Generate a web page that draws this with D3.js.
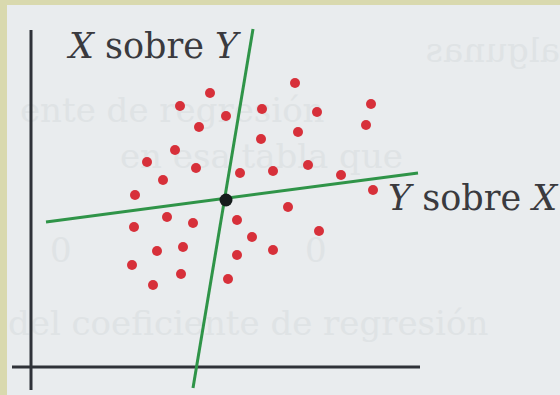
<!DOCTYPE html>
<html>
<head>
<meta charset="utf-8">
<script src="https://cdn.jsdelivr.net/npm/d3@7"></script>
<style>
  html, body { margin: 0; padding: 0; background: #d9d9ae; }
  svg { display: block; }
</style>
</head>
<body>
<div id="viz"><svg></svg></div>
<script>
const fullWidth = 560;
const fullHeight = 395;

// scatter points (x, y) in plot units
const pointsX = [44.75, 37.25, 48.75, 42, 57.75, 57.5, 36, 29, 41.25, 33, 52.25, 60.5, 26,
  66, 71.5, 66.75, 85, 83.75, 69.25, 77.5, 85.5,
  25.75, 34, 40.5, 51.5, 55.25, 60.5, 31.5, 38, 51.5, 25.25, 37.5, 30.5, 49.25, 64.25, 72];
const pointsY = [68.5, 65.25, 62.75, 60, 64.5, 57, 54.25, 51.25, 49.75, 46.75, 48.5, 49, 43,
  71, 63.75, 58.75, 65.75, 60.5, 50.5, 48, 44.25,
  35, 37.5, 36, 36.75, 32.5, 29.25, 29, 30, 28, 25.5, 23.25, 20.5, 22, 40, 34];

// centroid and the two regression lines (end points in plot units)
const centroid = [48.75, 41.75];
const lineXonY = [[55.5, 84.5], [40.5, -5.25]];
const lineYonX = [[3.75, 36.25], [96.75, 48.5]];

// axis extents
const xAxisRange = [-4.75, 97.25];
const yAxisRange = [-5.75, 84.25];

const labels = [
  { a: 'X', b: ' sobre ', c: 'Y', x: 9.5, y: 77.25 },
  { a: 'Y', b: ' sobre ', c: 'X', x: 89.25, y: 39.25 }
];

// faint text showing through from the page
const ghost = [
  { t: 'algunas', x: 300, y: 62, flip: true },
  { t: 'ente de regresión', x: 20, y: 122, flip: false },
  { t: 'en esa tabla que', x: 120, y: 168, flip: false },
  { t: '0', x: 50, y: 262, flip: false },
  { t: '0', x: 305, y: 262, flip: false },
  { t: 'del coeficiente de regresión', x: 8, y: 335, flip: false }
];

const svg = d3.select('#viz svg')
  .attr('width', fullWidth)
  .attr('height', fullHeight);

// paper
svg.append('rect')
  .attr('x', 7).attr('y', 5)
  .attr('width', fullWidth - 7).attr('height', fullHeight - 5)
  .attr('fill', '#e9ecee');

svg.append('g')
  .selectAll('text')
  .data(ghost)
  .enter().append('text')
  .attr('transform', d => d.flip ? `translate(${d.x + 260},${d.y}) scale(-1,1)` : `translate(${d.x},${d.y})`)
  .attr('font-family', 'DejaVu Serif')
  .attr('font-size', 34)
  .attr('fill', '#dfe3e5')
  .text(d => d.t);

// 4 px per unit, origin where axes cross
const x = d3.scaleLinear().domain([0, 100]).range([31, 431]);
const y = d3.scaleLinear().domain([0, 85]).range([367, 27]);

const g = svg.append('g');

g.append('line')
  .attr('x1', x(0)).attr('x2', x(0))
  .attr('y1', y(yAxisRange[0])).attr('y2', y(yAxisRange[1]))
  .attr('stroke', '#2f3238').attr('stroke-width', 3);

g.append('line')
  .attr('x1', x(xAxisRange[0])).attr('x2', x(xAxisRange[1]))
  .attr('y1', y(0)).attr('y2', y(0))
  .attr('stroke', '#2f3238').attr('stroke-width', 3);

const line = d3.line().x(d => x(d[0])).y(d => y(d[1]));

g.selectAll('path.reg')
  .data([lineXonY, lineYonX])
  .enter().append('path')
  .attr('class', 'reg')
  .attr('d', d => line(d))
  .attr('fill', 'none')
  .attr('stroke', '#2f9448')
  .attr('stroke-width', 3);

g.selectAll('circle.pt')
  .data(pointsX.map((v, i) => [v, pointsY[i]]))
  .enter().append('circle')
  .attr('class', 'pt')
  .attr('cx', d => x(d[0]))
  .attr('cy', d => y(d[1]))
  .attr('r', 5)
  .attr('fill', '#d7303a');

g.append('circle')
  .attr('cx', x(centroid[0]))
  .attr('cy', y(centroid[1]))
  .attr('r', 6.5)
  .attr('fill', '#151c1c');

const lab = g.selectAll('text.lab')
  .data(labels)
  .enter().append('text')
  .attr('class', 'lab')
  .attr('x', d => x(d.x))
  .attr('y', d => y(d.y))
  .attr('font-family', 'DejaVu Serif')
  .attr('font-size', 35)
  .attr('fill', '#3a3a3e');

lab.append('tspan').attr('font-style', 'italic').text(d => d.a);
lab.append('tspan').text(d => d.b);
lab.append('tspan').attr('font-style', 'italic').text(d => d.c);
</script>
</body>
</html>
